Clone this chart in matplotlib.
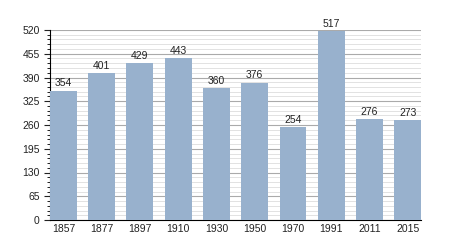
import matplotlib.pyplot as plt
from matplotlib.ticker import MultipleLocator

plt.rcParams['font.family'] = ['Liberation Sans', 'DejaVu Sans']

# Données
annees = ['1857', '1877', '1897', '1910', '1930', '1950', '1970', '1991', '2011', '2015']
population = [354, 401, 429, 443, 360, 376, 254, 517, 276, 273]

fig = plt.figure(figsize=(4.5, 2.5), dpi=100)
ax = fig.add_axes([0.111, 0.12, 0.825, 0.76])

x = range(len(annees))
largeur = 0.7
ax.bar(x, population, width=largeur, color='#98b1cd', zorder=3)

# Étiquettes au-dessus des barres
for xi, v in zip(x, population):
    ax.text(xi, v + 6, str(v), ha='center', va='bottom', fontsize=7.5, color='#222222')

ax.set_xlim(-largeur / 2, len(annees) - 1 + largeur / 2)
ax.set_ylim(0, 520)
ax.set_xticks(list(x))
ax.set_xticklabels(annees)

ax.yaxis.set_major_locator(MultipleLocator(65))
ax.yaxis.set_minor_locator(MultipleLocator(13))
ax.grid(axis='y', which='major', color='#aaaaaa', linewidth=0.8, zorder=0)
ax.grid(axis='y', which='minor', color='#dddddd', linewidth=0.6, zorder=0)

for s in ['top', 'right']:
    ax.spines[s].set_visible(False)
ax.spines['left'].set_linewidth(0.8)
ax.spines['bottom'].set_linewidth(0.8)

ax.tick_params(axis='x', length=0, labelsize=7.5, pad=3, colors='#222222')
ax.tick_params(axis='y', which='major', length=4, width=0.8, labelsize=7.5, colors='#222222')
ax.tick_params(axis='y', which='minor', length=2, width=0.6)

fig.savefig('out.png', dpi=100)
